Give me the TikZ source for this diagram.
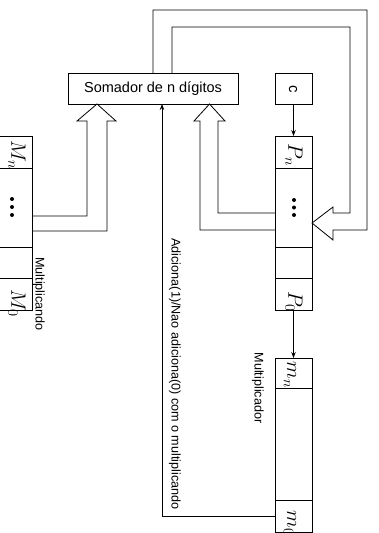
\documentclass[tikz,border=0pt]{standalone}
\usepackage{fontspec}
\setmainfont{Liberation Sans}
\usetikzlibrary{arrows.meta}
\begin{document}
\begin{tikzpicture}[x=1pt,y=-1pt,
  every node/.style={inner sep=0pt,outer sep=0pt},
  box/.style={draw,line width=0.8pt},
  ln/.style={line width=0.8pt},
  arr/.style={ln,-{Stealth[length=6pt,width=4.5pt]}},
  lbl/.style={rotate=-90,font=\fontsize{12.6}{14}\selectfont},
  mlbl/.style={rotate=-90,font=\fontsize{21}{23}\selectfont},
  regdot/.style={fill,circle,minimum size=4pt}]
\useasboundingbox (0,0) rectangle (378,533);
\clip (0,0) rectangle (378,533);
% boxes
\node[box,minimum width=170pt,minimum height=31pt,font=\fontsize{14.5}{16}\selectfont] (somador) at (153,88.5) {Somador de n dígitos};
\node[box,minimum width=37pt,minimum height=31pt] (cbox) at (293.5,88.5) {};
\node[rotate=-90,font=\fontsize{15}{17}\selectfont] (ctext) at (293,89) {c};
% P register
\node[box,minimum width=37pt,minimum height=174pt] (Preg) at (293.5,223) {};
\draw[ln] (275,168) -- (312,168) (275,247) -- (312,247) (275,278) -- (312,278);
\node[mlbl] (Pn) at (294,155) {$P_n$};
\node[mlbl] (P0) at (294,302) {$P_0$};
\node[regdot] (pd1) at (294,200) {};
\node[regdot] (pd2) at (294,207.5) {};
\node[regdot] (pd3) at (294,215) {};
% m register
\node[box,minimum width=37pt,minimum height=174pt] (mreg) at (293.5,445) {};
\draw[ln] (275,388) -- (312,388) (275,500) -- (312,500);
\node[mlbl] (mn) at (290,375) {$m_n$};
\node[mlbl] (m0) at (290,523) {$m_0$};
\node[lbl] (multiplicador) at (258,388) {Multiplicador};
% M register
\node[box,minimum width=37pt,minimum height=174pt] (Mreg) at (13.5,223) {};
\draw[ln] (-5,168) -- (32,168) (-5,247) -- (32,247) (-5,278) -- (32,278);
\node[mlbl] (Mn) at (17,155) {$M_n$};
\node[mlbl] (M0) at (17,303) {$M_0$};
\node[regdot] (md1) at (12,199) {};
\node[regdot] (md2) at (12,207) {};
\node[regdot] (md3) at (12,215) {};
\node[lbl] (multiplicando) at (39,294) {Multiplicando};
% connectors
\draw[arr] (cbox.south) -- (Preg.north);
\draw[arr] (Preg.south) -- (mreg.north);
\coordinate (m0w) at (275,516);
\coordinate (corner) at (162,516);
\draw[arr] (m0w) -- (corner) -- (corner |- somador.south);
\node[lbl] (adlbl) at (175,374) {Adiciona(1)/Nao adiciona(0) com o multiplicando};
% hollow arrow M -> somador
\draw[ln] (32,216) -- (87,216) -- (87,121) -- (77,121) -- (97,104) -- (116,121) -- (107,121) -- (107,231) -- (32,231);
% hollow arrow P -> somador
\draw[ln] (275,213) -- (218,213) -- (218,121) -- (225,121) -- (209.5,104) -- (194,121) -- (200,121) -- (200,230) -- (275,230);
% feedback somador -> P
\draw[ln] (153,73) -- (153,10) -- (367,10) -- (367,230) -- (333,230) -- (333,240) -- (312,223) -- (333,207) -- (333,213) -- (350,213) -- (350,27) -- (172,27) -- (172,73);
\end{tikzpicture}
\end{document}
